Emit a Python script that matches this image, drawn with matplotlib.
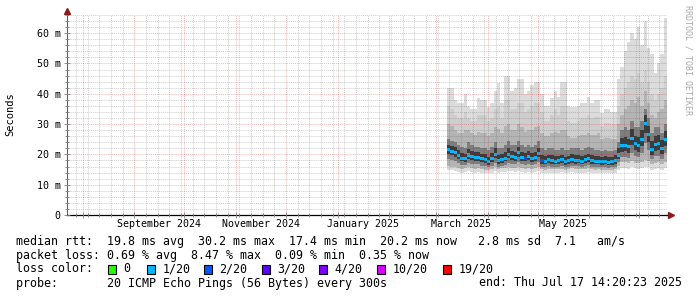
import numpy as np
import pandas as pd
import matplotlib
matplotlib.use('Agg')
import matplotlib.pyplot as plt
import matplotlib.dates as mdates
from matplotlib.patches import Rectangle
from matplotlib.ticker import MultipleLocator, NullFormatter

W, H = 697, 297
plt.rcParams['font.family'] = 'DejaVu Sans Mono'

# time window of the graph and of the data columns (2 days per column)
t_start = pd.Timestamp('2024-07-22 14:20:23')
t_end = pd.Timestamp('2025-07-17 14:20:23')
col_start = pd.Timestamp('2025-03-07 12:00')

# median rtt per column (ms)
median = [21.5, 21.0, 20.5, 19.5, 18.8, 18.5, 19.8, 19.2, 19.0, 19.0,
          18.5, 18.3, 17.6, 18.5, 20.0, 18.0, 18.2, 18.8, 20.0, 19.2,
          19.0, 20.5, 19.0, 18.8, 19.2, 18.5, 19.0, 20.2, 18.0, 17.8,
          18.2, 18.0, 17.8, 17.9, 18.2, 17.6, 17.9, 18.3, 18.0, 18.1,
          17.8, 18.2, 18.5, 18.0, 17.7, 17.8, 17.6, 17.7, 17.4, 17.6,
          18.0, 19.8, 22.8, 23.0, 22.5, 25.4, 23.5, 22.8, 25.0, 30.2,
          26.5, 21.7, 23.2, 23.6, 22.0, 25.0]

# lost pings (of 20) per column
loss = [1, 1, 1, 1, 1, 1, 1, 1, 1, 1,
        1, 1, 1, 1, 1, 1, 1, 1, 1, 1,
        1, 1, 1, 2, 1, 1, 1, 1, 2, 1,
        1, 1, 1, 1, 1, 1, 1, 1, 1, 1,
        1, 1, 1, 1, 1, 1, 1, 1, 1, 1,
        1, 1, 1, 1, 1, 1, 1, 1, 1, 1,
        1, 1, 1, 1, 1, 1]

# smoke: sorted ping levels per column (ms), outer to inner
p_min = [15.0, 14.8, 14.5, 14.2, 14.0, 14.2, 14.5, 14.3, 14.0, 14.2,
         14.0, 13.8, 13.8, 14.0, 14.5, 14.0, 14.2, 14.3, 14.6, 14.4,
         14.2, 14.6, 14.3, 14.0, 14.2, 14.0, 14.3, 14.6, 14.0, 13.8,
         14.0, 14.0, 13.9, 14.0, 14.1, 13.8, 13.9, 14.2, 14.0, 14.0,
         13.9, 14.0, 14.2, 14.0, 13.8, 13.9, 13.8, 13.8, 13.7, 13.8,
         14.0, 14.8, 15.5, 15.6, 15.2, 15.8, 15.4, 15.2, 15.6, 16.0,
         15.8, 15.0, 15.3, 15.5, 15.0, 15.6]
p_lo1 = [16.2, 16.0, 15.8, 15.4, 15.2, 15.4, 15.7, 15.5, 15.2, 15.4,
         15.2, 15.0, 15.0, 15.2, 15.7, 15.2, 15.4, 15.5, 15.8, 15.6,
         15.4, 15.8, 15.5, 15.2, 15.4, 15.2, 15.5, 15.8, 15.2, 15.0,
         15.2, 15.2, 15.1, 15.2, 15.3, 15.0, 15.1, 15.4, 15.2, 15.2,
         15.1, 15.2, 15.4, 15.2, 15.0, 15.1, 15.0, 15.0, 14.9, 15.0,
         15.2, 16.2, 17.4, 17.5, 17.0, 17.8, 17.3, 17.0, 17.6, 18.2,
         17.8, 16.8, 17.2, 17.4, 16.8, 17.6]
p_lo2 = [18.6, 18.3, 17.9, 17.1, 16.6, 16.4, 17.2, 16.9, 16.7, 16.7,
         16.3, 16.1, 15.7, 16.3, 17.2, 16.0, 16.1, 16.6, 17.3, 16.9,
         16.8, 17.6, 16.8, 16.6, 16.9, 16.4, 16.8, 17.5, 16.0, 15.9,
         16.1, 16.0, 15.9, 16.0, 16.2, 15.8, 16.0, 16.3, 16.1, 16.1,
         15.9, 16.2, 16.4, 16.0, 15.8, 15.9, 15.8, 15.8, 15.6, 15.8,
         16.0, 17.4, 19.2, 19.2, 18.8, 20.6, 19.4, 19.0, 20.4, 23.6,
         21.4, 18.6, 19.4, 19.6, 18.6, 20.5]
core_lo = [20.2, 19.8, 19.3, 18.4, 17.7, 17.4, 18.6, 18.1, 17.9, 17.9,
           17.4, 17.2, 16.6, 17.4, 18.8, 16.9, 17.1, 17.7, 18.8, 18.1,
           17.9, 19.3, 17.9, 17.7, 18.1, 17.4, 17.9, 19.0, 16.9, 16.8,
           17.1, 16.9, 16.8, 16.8, 17.1, 16.6, 16.8, 17.2, 16.9, 17.0,
           16.8, 17.1, 17.4, 16.9, 16.7, 16.8, 16.6, 16.7, 16.4, 16.6,
           16.9, 18.5, 20.8, 21.0, 20.5, 23.0, 21.4, 20.8, 22.8, 27.2,
           24.2, 19.8, 21.2, 21.6, 20.1, 22.8]
core_hi = [23.2, 22.8, 22.3, 21.3, 20.6, 20.2, 21.8, 21.0, 20.8, 20.8,
           20.2, 20.0, 19.3, 20.3, 22.0, 19.8, 20.0, 20.7, 22.0, 21.0,
           20.9, 22.5, 20.9, 20.6, 21.0, 20.3, 20.9, 22.2, 19.8, 19.5,
           19.9, 19.8, 19.5, 19.6, 19.9, 19.3, 19.6, 20.0, 19.8, 19.8,
           19.5, 19.9, 20.2, 19.7, 19.4, 19.5, 19.3, 19.4, 19.1, 19.3,
           19.7, 22.0, 25.5, 25.8, 25.2, 28.4, 26.2, 25.6, 28.0, 33.0,
           29.5, 24.5, 26.0, 26.4, 24.6, 27.8]
p_hi1 = [25.0, 24.5, 24.0, 23.0, 22.5, 22.0, 24.0, 23.0, 22.5, 22.5,
         22.0, 22.0, 21.5, 22.5, 24.0, 22.0, 22.0, 23.0, 24.5, 23.0,
         23.0, 24.5, 23.0, 22.5, 23.0, 22.5, 23.0, 24.5, 22.0, 21.5,
         22.0, 22.0, 21.5, 21.5, 22.0, 21.5, 21.5, 22.0, 22.0, 22.0,
         21.5, 22.0, 22.5, 22.0, 21.5, 21.5, 21.0, 21.5, 21.0, 21.0,
         21.5, 24.0, 28.0, 29.0, 28.0, 31.0, 29.0, 29.0, 31.0, 35.0,
         32.0, 27.0, 29.0, 29.0, 27.0, 30.0]
p_hi2 = [30.0, 29.5, 28.0, 27.0, 27.0, 28.0, 28.0, 27.0, 26.5, 27.5,
         27.0, 27.0, 26.0, 27.0, 29.0, 28.5, 27.0, 29.5, 30.0, 28.0,
         28.0, 30.0, 29.0, 27.5, 28.0, 28.0, 29.0, 29.5, 27.0, 26.0,
         26.0, 27.0, 27.5, 27.0, 28.0, 28.0, 26.0, 25.5, 25.5, 26.0,
         26.5, 26.5, 27.0, 26.5, 26.5, 27.0, 25.0, 25.5, 25.5, 25.0,
         25.0, 30.0, 33.0, 35.0, 36.0, 38.0, 37.0, 39.0, 36.0, 41.0,
         37.0, 33.0, 32.0, 34.0, 35.0, 38.0]
p_hi3 = [36.0, 35.0, 33.0, 32.0, 32.0, 34.0, 32.0, 31.0, 31.0, 33.0,
         33.0, 33.0, 31.0, 32.0, 35.0, 36.0, 32.0, 38.0, 38.0, 35.0,
         35.0, 37.0, 37.0, 34.0, 35.0, 36.0, 37.0, 37.0, 34.0, 31.0,
         31.0, 33.0, 35.0, 33.0, 36.0, 36.0, 31.0, 30.5, 30.5, 31.0,
         32.0, 32.0, 33.0, 32.0, 32.5, 32.5, 29.5, 30.5, 30.5, 30.0,
         30.0, 36.0, 40.0, 42.0, 44.0, 46.0, 45.0, 47.0, 44.0, 48.0,
         44.0, 40.0, 38.0, 40.0, 42.0, 46.0]
p_max = [42.0, 42.0, 38.0, 37.0, 37.0, 40.0, 36.0, 35.0, 35.0, 38.5,
         38.0, 38.0, 35.5, 37.0, 41.0, 43.5, 37.0, 46.0, 46.0, 41.0,
         42.0, 45.0, 45.0, 40.0, 41.0, 43.0, 44.0, 44.0, 40.0, 36.0,
         36.0, 38.7, 41.0, 39.0, 44.0, 44.0, 36.0, 35.5, 35.5, 36.0,
         37.0, 37.0, 39.0, 37.0, 38.0, 38.0, 33.6, 35.0, 35.0, 34.0,
         34.0, 45.0, 49.0, 54.0, 57.0, 60.0, 58.0, 62.0, 56.0, 64.0,
         55.0, 53.0, 47.0, 50.0, 53.0, 65.0]

loss_levels = [0, 1, 2, 3, 4, 10, 19]
loss_colors = ['#26ff00', '#00b8ff', '#0059ff', '#5e00ff', '#7e00ff', '#dd00ff', '#ff0000']
loss_labels = ['0', '1/20', '2/20', '3/20', '4/20', '10/20', '19/20']

label_months = ['2024-09-01', '2024-11-01', '2025-01-01', '2025-03-01', '2025-05-01']

fig = plt.figure(figsize=(W / 100, H / 100), dpi=100)
fig.patch.set_facecolor('white')
# plot area 67..667 x 15..215 px
ax = fig.add_axes([67 / W, 1 - 215 / H, 600 / W, 200 / H])
ax.set_facecolor('white')

n = len(median)
edges = pd.date_range(col_start, periods=n + 1, freq='2D')
xe = mdates.date2num(edges)


def smoke(lo, hi, color):
    lo = np.append(lo, lo[-1])
    hi = np.append(hi, hi[-1])
    ax.fill_between(xe, lo, hi, step='post', color=color, lw=0, zorder=1)


smoke(p_min, p_max, '#dcdcdc')
smoke(p_lo1, p_hi3, '#cecece')
smoke(p_lo1, p_hi2, '#b4b4b4')
smoke(p_lo2, p_hi1, '#7e7e7e')
smoke(core_lo, core_hi, '#3c3c3c')

med = np.array(median)
cols = [loss_colors[loss_levels.index(l)] for l in loss]
ax.bar(xe[:-1], 1.0, bottom=med - 0.5, width=2.0, align='edge',
       color=cols, linewidth=0, zorder=2)

ax.set_xlim(mdates.date2num(t_start), mdates.date2num(t_end))
ax.set_ylim(0, 66)

# grid: months major, weeks (sunday) minor, 10 ms / 2 ms
ax.xaxis.set_major_locator(mdates.MonthLocator())
ax.xaxis.set_minor_locator(mdates.WeekdayLocator(byweekday=mdates.SU))
ax.xaxis.set_major_formatter(NullFormatter())
ax.yaxis.set_major_locator(MultipleLocator(10))
ax.yaxis.set_minor_locator(MultipleLocator(2))
ax.yaxis.set_major_formatter(plt.FuncFormatter(lambda v, p: '0' if v == 0 else '%d m' % v))
ax.set_axisbelow(False)
ax.grid(which='minor', color='#404040', alpha=0.25, ls=(0, (1, 1)), lw=0.7)
ax.grid(which='major', color='#e00000', alpha=0.28, ls=(0, (1, 1)), lw=0.7)

ax.tick_params(which='both', direction='inout', color='#808080', width=0.6)
ax.tick_params(which='major', length=4)
ax.tick_params(which='minor', length=2.5)
ax.tick_params(axis='y', labelsize=7.2, pad=2.5)

for s in ['top', 'right']:
    ax.spines[s].set_visible(False)
ax.spines['left'].set_color('#606060')
ax.spines['bottom'].set_color('black')
ax.spines['left'].set_linewidth(0.8)
ax.spines['bottom'].set_linewidth(0.9)

# axis arrows
ax.plot([0], [1.0225], marker='^', ms=4.5, color='#8b1a1a', transform=ax.transAxes, clip_on=False)
ax.plot([1.006], [0], marker='>', ms=4.5, color='#8b1a1a', transform=ax.transAxes, clip_on=False)

# month labels centred half a month after the month start
for m in label_months:
    d = pd.Timestamp(m)
    ax.text(mdates.date2num(d + pd.Timedelta(days=15)), -0.045, d.strftime('%B %Y'),
            transform=ax.get_xaxis_transform(), ha='center', va='center', fontsize=7.2)

fig.text(10 / W, 1 - 114 / H, 'Seconds', rotation=90, ha='center', va='center', fontsize=7.5)
fig.text(688 / W, 1 - 5 / H, 'RRDTOOL / TOBI OETIKER', rotation=270, ha='center', va='top',
         fontsize=6, color='#aaaaaa')

# legend
fs = 8.37


def ftxt(x, y, s, **kw):
    fig.text(x / W, 1 - y / H, s, fontsize=fs, va='center', **kw)


ftxt(16, 241, 'median rtt:  19.8 ms avg  30.2 ms max  17.4 ms min  20.2 ms now   2.8 ms sd  7.1   am/s')
ftxt(16, 255, 'packet loss: 0.69 % avg  8.47 % max  0.09 % min  0.35 % now')

ftxt(16, 269, 'loss color:')
box_x = [108, 147, 204, 262, 319, 377, 443]
for bx, c, lab in zip(box_x, loss_colors, loss_labels):
    fig.patches.append(Rectangle((bx / W, 1 - 273.5 / H), 8 / W, 9 / H, transform=fig.transFigure,
                                 facecolor=c, edgecolor='black', lw=0.8))
    ftxt(bx + 15.5, 269, lab)

ftxt(16, 283, 'probe:       20 ICMP Echo Pings (56 Bytes) every 300s')
ftxt(682, 283, 'end: Thu Jul 17 14:20:23 2025', ha='right')

fig.savefig('out.png', dpi=100, facecolor='white')
